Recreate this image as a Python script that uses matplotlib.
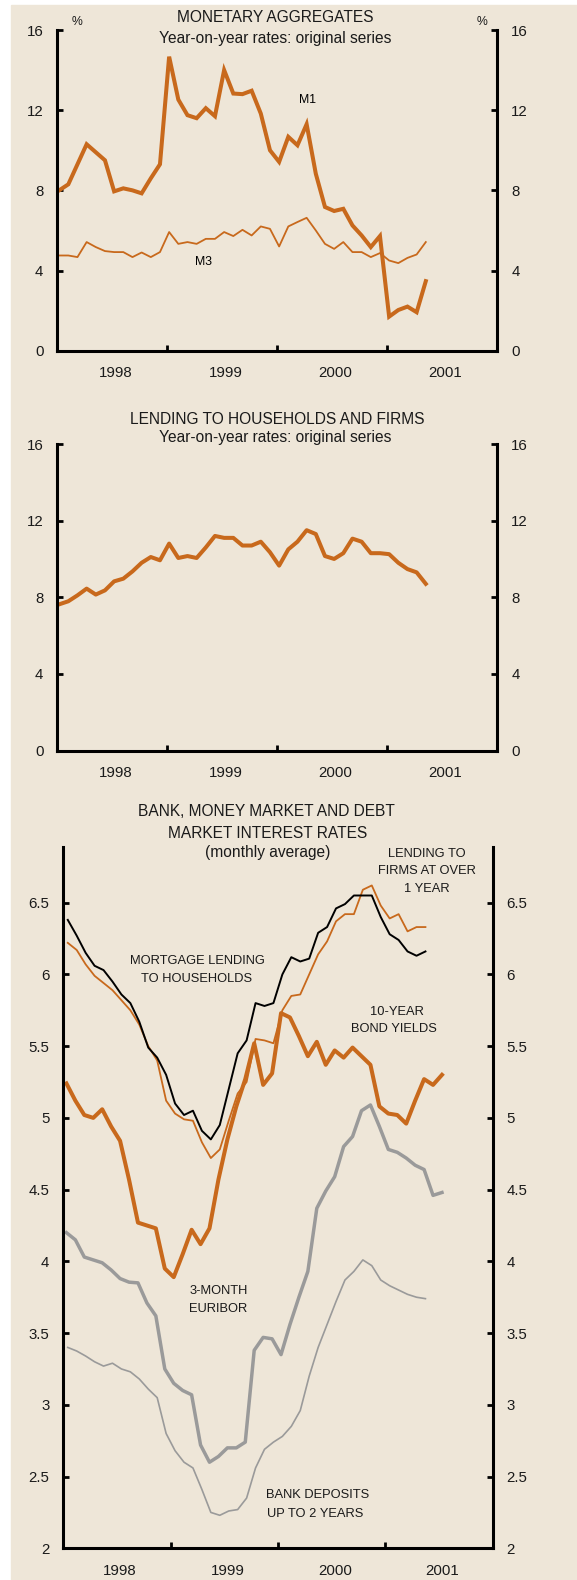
import numpy as np
import matplotlib
matplotlib.use("Agg")
import matplotlib.pyplot as plt
from matplotlib.patches import Rectangle

plt.rcParams["font.family"] = ["Liberation Sans", "DejaVu Sans"]

W, H = 577, 1580
BG = "#EEE6D8"
ORANGE = "#C8691C"
GREY = "#9A9A9A"

# ---- dati (mensili, da gen 1998) ----
years = [1998, 1999, 2000, 2001]

m1 = [8.0, 8.3, 9.3, 10.3, 9.9, 9.5, 7.95, 8.1, 8.0, 7.85, 8.6, 9.3,
      14.67, 12.53, 11.75, 11.6, 12.1, 11.7, 14.0, 12.83, 12.8, 12.97, 11.83, 10.0,
      9.42, 10.67, 10.25, 11.3, 8.83, 7.17, 6.97, 7.08, 6.25, 5.75, 5.17, 5.72,
      1.7, 2.03, 2.2, 1.92, 3.47]
m3 = [4.75, 4.75, 4.67, 5.42, 5.17, 4.97, 4.92, 4.92, 4.67, 4.9, 4.67, 4.92,
      5.92, 5.33, 5.42, 5.33, 5.58, 5.58, 5.92, 5.72, 6.03, 5.75, 6.2, 6.08,
      5.2, 6.2, 6.42, 6.63, 6.0, 5.33, 5.08, 5.42, 4.92, 4.92, 4.67, 4.87,
      4.5, 4.37, 4.63, 4.8, 5.42]
prestiti = [7.63, 7.79, 8.1, 8.45, 8.14, 8.36, 8.83, 8.97, 9.35, 9.8, 10.1, 9.93,
            10.8, 10.05, 10.15, 10.05, 10.6, 11.2, 11.1, 11.1, 10.7, 10.7, 10.9, 10.35,
            9.65, 10.5, 10.9, 11.5, 11.3, 10.15, 10.0, 10.3, 11.06, 10.9, 10.3, 10.3,
            10.25, 9.8, 9.47, 9.3, 8.7]

mutui = [6.38, 6.27, 6.15, 6.06, 6.03, 5.95, 5.86, 5.80, 5.67, 5.49, 5.42, 5.30,
         5.10, 5.02, 5.05, 4.91, 4.85, 4.95, 5.20, 5.45, 5.54, 5.80, 5.78, 5.80,
         6.00, 6.12, 6.09, 6.11, 6.29, 6.33, 6.46, 6.49, 6.55, 6.55, 6.55, 6.40,
         6.28, 6.24, 6.16, 6.13, 6.16]
imprese_1a = [6.22, 6.17, 6.07, 5.99, 5.94, 5.89, 5.82, 5.75, 5.65, 5.50, 5.40, 5.12,
              5.03, 4.99, 4.98, 4.83, 4.72, 4.78, 4.98, 5.17, 5.25, 5.55, 5.54, 5.52,
              5.75, 5.85, 5.86, 6.00, 6.14, 6.23, 6.37, 6.42, 6.42, 6.59, 6.62, 6.48,
              6.39, 6.42, 6.30, 6.33, 6.33]
btp_10a = [5.24, 5.12, 5.02, 5.00, 5.06, 4.94, 4.84, 4.57, 4.27, 4.25, 4.23, 3.95,
           3.89, 4.05, 4.22, 4.12, 4.23, 4.57, 4.85, 5.08, 5.27, 5.52, 5.23, 5.31,
           5.73, 5.70, 5.57, 5.43, 5.53, 5.37, 5.47, 5.42, 5.49, 5.43, 5.37, 5.08,
           5.03, 5.02, 4.96, 5.12, 5.27, 5.23, 5.30]
euribor_3m = [4.20, 4.15, 4.03, 4.01, 3.99, 3.94, 3.88, 3.855, 3.85, 3.71, 3.62, 3.25,
              3.15, 3.10, 3.07, 2.72, 2.60, 2.64, 2.70, 2.70, 2.74, 3.38, 3.47, 3.46,
              3.35, 3.56, 3.75, 3.93, 4.37, 4.49, 4.59, 4.80, 4.87, 5.05, 5.09, 4.94,
              4.78, 4.76, 4.72, 4.67, 4.64, 4.46, 4.48]
depositi_2a = [3.40, 3.375, 3.34, 3.30, 3.27, 3.29, 3.25, 3.23, 3.18, 3.11, 3.05, 2.80,
               2.68, 2.60, 2.56, 2.41, 2.25, 2.23, 2.26, 2.27, 2.35, 2.56, 2.69, 2.74,
               2.78, 2.85, 2.96, 3.20, 3.40, 3.56, 3.72, 3.87, 3.93, 4.01, 3.97, 3.87,
               3.83, 3.80, 3.77, 3.75, 3.74]

y_pct = [0, 4, 8, 12, 16]
y_tassi = [2, 2.5, 3, 3.5, 4, 4.5, 5, 5.5, 6, 6.5]


def mesi(serie, off):
    return 1998 + (np.arange(len(serie)) + off) / 12


def box(left, top, right, bottom):
    return [left / W, 1 - bottom / H, (right - left) / W, (bottom - top) / H]


def ftext(fig, x, y, s, size=11.2):
    fig.text(x / W, 1 - y / H, s, ha="center", va="center", fontsize=size,
             color="#1a1a1a")


def stile(ax, ylim, yticks, ylabels):
    ax.set_facecolor("none")
    ax.set_xlim(1998, 2002)
    ax.set_ylim(*ylim)
    ax.spines["top"].set_visible(False)
    for s in ["left", "right", "bottom"]:
        ax.spines[s].set_linewidth(2.2)
    ax.set_yticks(yticks)
    ax.set_yticklabels(ylabels)
    ax.tick_params(axis="y", direction="in", length=4, width=2, left=True, right=True,
                   labelleft=True, labelright=True, labelsize=10.8, pad=10,
                   labelcolor="#1a1a1a")
    ax.set_xticks([1999, 2000, 2001])
    ax.set_xticklabels([])
    ax.set_xticks([y + 0.53 for y in years], minor=True)
    ax.set_xticklabels([str(y) for y in years], minor=True)
    ax.tick_params(axis="x", which="major", direction="in", length=4, width=2)
    ax.tick_params(axis="x", which="minor", length=0, labelsize=10.8, pad=11,
                   labelcolor="#1a1a1a")


fig = plt.figure(figsize=(W / 100, H / 100), dpi=100)
fig.patches.append(Rectangle((11 / W, 0), 1 - 11 / W, 1 - 5 / H,
                             transform=fig.transFigure, color=BG, zorder=-10))

# --- pannello 1: aggregati monetari ---
ax1 = fig.add_axes(box(57.3, 30, 497.3, 350.7))
stile(ax1, (0, 16), y_pct, [str(v) for v in y_pct])
ax1.plot(mesi(m1, 0.2), m1, color=ORANGE, lw=2.9, solid_joinstyle="miter")
ax1.plot(mesi(m3, 0.2), m3, color=ORANGE, lw=1.3)
ax1.text(2000.273, 12.5, "M1", ha="center", va="center", fontsize=8.8)
ax1.text(1999.329, 4.44, "M3", ha="center", va="center", fontsize=8.8)
ftext(fig, 275.5, 17.3, "MONETARY AGGREGATES")
ftext(fig, 275.3, 39, "Year-on-year rates: original series")
ftext(fig, 77, 22, "%", size=8.8)
ftext(fig, 482, 22, "%", size=8.8)

# --- pannello 2: prestiti a famiglie e imprese ---
ax2 = fig.add_axes(box(57.3, 444, 497.3, 750.5))
stile(ax2, (0, 16), y_pct, [str(v) for v in y_pct])
ax2.plot(mesi(prestiti, 0.2), prestiti, color=ORANGE, lw=2.9)
ftext(fig, 277, 419, "LENDING TO HOUSEHOLDS AND FIRMS")
ftext(fig, 275.3, 437.3, "Year-on-year rates: original series")

# --- pannello 3: tassi di interesse ---
ax3 = fig.add_axes(box(63.3, 847, 492.5, 1548.3))
stile(ax3, (2, 6.888), y_tassi, [f"{v:g}" for v in y_tassi])
ax3.plot(mesi(depositi_2a, 0.5), depositi_2a, color=GREY, lw=1.2)
ax3.plot(mesi(euribor_3m, 0.35), euribor_3m, color=GREY, lw=2.5)
ax3.plot(mesi(btp_10a, 0.35), btp_10a, color=ORANGE, lw=2.9)
ax3.plot(mesi(imprese_1a, 0.5), imprese_1a, color=ORANGE, lw=1.3)
ax3.plot(mesi(mutui, 0.5), mutui, color="black", lw=1.4)
ftext(fig, 266.7, 811.5, "BANK, MONEY MARKET AND DEBT")
ftext(fig, 268, 833.5, "MARKET INTEREST RATES")
ftext(fig, 268, 852.5, "(monthly average)")

etichette = [
    (2001.387, 6.839, "LENDING TO"),
    (2001.387, 6.723, "FIRMS AT OVER"),
    (2001.387, 6.593, "1 YEAR"),
    (1999.253, 6.096, "MORTGAGE LENDING"),
    (1999.243, 5.966, "TO HOUSEHOLDS"),
    (2001.113, 5.740, "10-YEAR"),
    (2001.082, 5.618, "BOND YIELDS"),
    (1999.451, 3.796, "3-MONTH"),
    (1999.445, 3.667, "EURIBOR"),
    (2000.367, 2.370, "BANK DEPOSITS"),
    (2000.346, 2.240, "UP TO 2 YEARS"),
]
for x, y, s in etichette:
    ax3.text(x, y, s, ha="center", va="center", fontsize=9.3, color="#1a1a1a")

fig.savefig("out.png", dpi=100)
